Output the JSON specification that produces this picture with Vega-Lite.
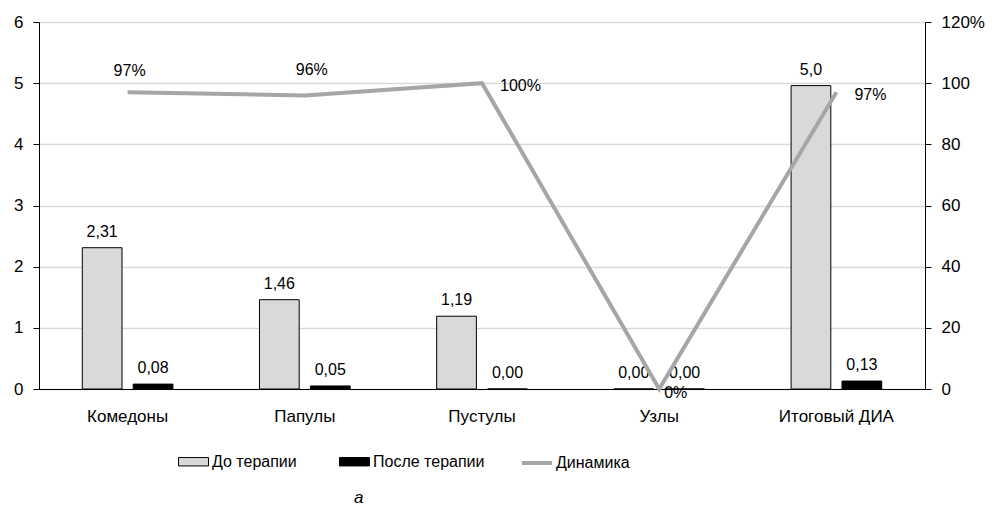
{
  "$schema": "https://vega.github.io/schema/vega-lite/v6.json",
  "width": 886,
  "height": 367,
  "padding": {"left": 13, "top": 13, "right": 5, "bottom": 5},
  "background": "white",
  "config": {
    "font": "Liberation Sans",
    "view": {"stroke": null},
    "axis": {"labelColor": "#000000", "labelFont": "Liberation Sans"},
    "legend": {"labelFont": "Liberation Sans", "labelColor": "#000000"},
    "text": {"font": "Liberation Sans", "fontSize": 16, "color": "#000000"}
  },
  "title": {
    "text": "а",
    "orient": "bottom",
    "anchor": "start",
    "frame": "group",
    "dx": 315,
    "offset": 19,
    "fontSize": 17,
    "fontStyle": "italic",
    "fontWeight": "normal",
    "font": "Liberation Sans",
    "color": "#000000"
  },
  "datasets": {
    "bars": [
      {"cat": "Комедоны", "series": "До терапии", "value": 2.31, "label": "2,31"},
      {"cat": "Комедоны", "series": "После терапии", "value": 0.08, "label": "0,08"},
      {"cat": "Папулы", "series": "До терапии", "value": 1.46, "label": "1,46"},
      {"cat": "Папулы", "series": "После терапии", "value": 0.05, "label": "0,05"},
      {"cat": "Пустулы", "series": "До терапии", "value": 1.19, "label": "1,19"},
      {"cat": "Пустулы", "series": "После терапии", "value": 0.0, "label": "0,00"},
      {"cat": "Узлы", "series": "До терапии", "value": 0.0, "label": "0,00"},
      {"cat": "Узлы", "series": "После терапии", "value": 0.0, "label": "0,00"},
      {"cat": "Итоговый ДИА", "series": "До терапии", "value": 4.96, "label": "5,0"},
      {"cat": "Итоговый ДИА", "series": "После терапии", "value": 0.13, "label": "0,13"}
    ],
    "dyn": [
      {"cat": "Комедоны", "pct": 97, "label": "97%"},
      {"cat": "Папулы", "pct": 96, "label": "96%"},
      {"cat": "Пустулы", "pct": 100, "label": "100%"},
      {"cat": "Узлы", "pct": 0, "label": "0%"},
      {"cat": "Итоговый ДИА", "pct": 97, "label": "97%"}
    ]
  },
  "encoding": {
    "x": {
      "field": "cat",
      "type": "nominal",
      "sort": ["Комедоны", "Папулы", "Пустулы", "Узлы", "Итоговый ДИА"],
      "scale": {"paddingInner": 0, "paddingOuter": 0},
      "axis": {
        "title": null,
        "labelAngle": 0,
        "labelFontSize": 17,
        "labelPadding": 19,
        "ticks": false,
        "domainColor": "#000000",
        "domainWidth": 1
      }
    }
  },
  "layer": [
    {
      "data": {"name": "bars"},
      "encoding": {
        "y": {
          "field": "value",
          "type": "quantitative",
          "scale": {"domain": [0, 6], "nice": false},
          "axis": {
            "title": null,
            "orient": "left",
            "values": [0, 1, 2, 3, 4, 5, 6],
            "grid": true,
            "gridColor": "#d9d9d9",
            "gridWidth": 1.5,
            "domainColor": "#000000",
            "tickColor": "#000000",
            "tickSize": 6,
            "labelFontSize": 17,
            "labelPadding": 10
          }
        },
        "xOffset": {
          "field": "series",
          "type": "nominal",
          "sort": ["До терапии", "После терапии"],
          "scale": {"paddingInner": 0.22, "paddingOuter": 0.85}
        }
      },
      "layer": [
        {
          "mark": {"type": "bar", "stroke": "#000000", "strokeWidth": 1},
          "encoding": {
            "fill": {
              "field": "series",
              "type": "nominal",
              "scale": {
                "domain": ["До терапии", "После терапии"],
                "range": ["#d9d9d9", "#000000"]
              },
              "legend": {
                "orient": "none",
                "legendX": 139,
                "legendY": 424,
                "direction": "horizontal",
                "title": null,
                "columnPadding": 40,
                "labelOffset": 3,
                "labelFontSize": 16,
                "symbolType": "M-1,-0.28H1V0.28H-1Z",
                "symbolSize": 900,
                "symbolStrokeColor": "#000000",
                "symbolStrokeWidth": 1,
                "symbolOpacity": 1
              }
            }
          }
        },
        {
          "mark": {"type": "text", "baseline": "alphabetic", "dy": -11, "fontSize": 16},
          "encoding": {"text": {"field": "label"}}
        }
      ]
    },
    {
      "data": {"name": "dyn"},
      "encoding": {
        "y": {
          "field": "pct",
          "type": "quantitative",
          "scale": {"domain": [0, 120], "nice": false},
          "axis": {
            "title": null,
            "orient": "right",
            "values": [0, 20, 40, 60, 80, 100, 120],
            "grid": false,
            "domainColor": "#000000",
            "tickColor": "#000000",
            "tickSize": 6,
            "labelFontSize": 17,
            "labelPadding": 10,
            "labelExpr": "datum.value == 120 ? '120%' : datum.label"
          }
        }
      },
      "layer": [
        {
          "mark": {"type": "line", "strokeWidth": 4},
          "encoding": {
            "stroke": {
              "datum": "Динамика",
              "type": "nominal",
              "scale": {"domain": ["Динамика"], "range": ["#a6a6a6"]},
              "legend": {
                "orient": "none",
                "legendX": 481,
                "legendY": 424,
                "title": null,
                "labelOffset": 2,
                "labelFontSize": 16,
                "symbolType": "stroke",
                "symbolSize": 900,
                "symbolStrokeWidth": 4,
                "symbolOpacity": 1
              }
            }
          }
        },
        {
          "transform": [{"filter": "datum.cat === 'Комедоны'"}],
          "mark": {"type": "text", "baseline": "alphabetic", "dx": 2, "dy": -16, "fontSize": 16},
          "encoding": {"text": {"field": "label"}}
        },
        {
          "transform": [{"filter": "datum.cat === 'Папулы'"}],
          "mark": {"type": "text", "baseline": "alphabetic", "dx": 7, "dy": -20, "fontSize": 16},
          "encoding": {"text": {"field": "label"}}
        },
        {
          "transform": [{"filter": "datum.cat === 'Пустулы' || datum.cat === 'Итоговый ДИА'"}],
          "mark": {"type": "text", "baseline": "alphabetic", "align": "left", "dx": 18, "dy": 8, "fontSize": 16},
          "encoding": {"text": {"field": "label"}}
        },
        {
          "transform": [{"filter": "datum.cat === 'Узлы'"}],
          "mark": {"type": "text", "baseline": "alphabetic", "align": "left", "dx": 5, "dy": 9, "fontSize": 16},
          "encoding": {"text": {"field": "label"}}
        }
      ]
    }
  ],
  "resolve": {"scale": {"y": "independent"}}
}
